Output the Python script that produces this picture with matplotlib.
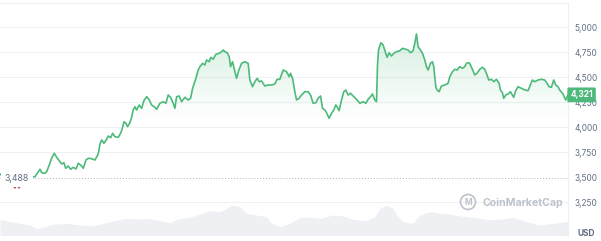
import numpy as np
import matplotlib
matplotlib.use("Agg")
import matplotlib.pyplot as plt
from matplotlib.patches import Circle
from matplotlib.colors import LinearSegmentedColormap

# ---------------- data ----------------
t = [0, 3, 6, 10, 13, 15, 17, 19, 21, 24, 27, 30, 35, 38.3, 40, 41.7, 45, 46.7, 49.3, 51.7, 54.3, 56.7, 59.3,
     61.7, 64, 65.7, 68.3, 70.7, 73.3, 76, 78.3, 81.7, 83.3, 86, 88.3, 91.7, 95, 98.3, 100, 101.7,
     104, 106.7, 108.3, 110.7, 112.7, 115, 118.3, 120.7, 122.7, 124, 126, 127.7, 130, 131.7, 133.3,
     135, 136.7, 139.3, 141.7, 144, 146.7, 149, 151.7, 155, 156.7, 160, 163.3, 166, 168.3, 170.7,
     173.3, 175, 176.7, 179.3, 181.7, 185, 188.3, 190.7, 192.7, 194.3, 196, 198.3, 200, 202.7, 205,
     206.7, 209.3, 211, 213.3, 216, 219.3, 221.7, 223.3, 225, 227.3, 229.3, 230.7, 232.7, 235,
     236.7, 239, 241.7, 245, 248.3, 250, 252.7, 255, 257.3, 259.3, 261.7, 265, 268.3, 271.7, 275,
     277.3, 280, 283.3, 286.7, 289.3, 290.7, 292.7, 295, 296.7, 299.3, 301.7, 305, 308.3, 310.7,
     313.3, 316, 318.3, 320.7, 322.7, 325, 326.7, 329.3, 331.7, 334, 336, 337.3, 339.3, 341.7, 344,
     346, 348.3, 350.7, 353.3, 356.7, 360, 363.3, 366, 368.3, 370.7, 372.7, 375, 376.7, 377.7,
     378.7, 381, 383.3, 386, 387.3, 389.3, 391.7, 394, 396.7, 400, 402.7, 406, 408.3, 410.7, 413.3,
     415, 416.7, 418.3, 420.7, 422.7, 425, 426.7, 428.3, 430.7, 432.7, 434, 436, 437.3, 439.3,
     441.7, 445, 448.3, 450, 452.7, 455, 457.3, 460, 462.7, 465, 466.7, 469.3, 470.7, 472.7, 475,
     477.3, 480, 482.7, 485, 487.3, 489, 491.7, 494, 496.7, 499.3, 500.7, 502.7, 504, 506, 508.3,
     510.7, 512.7, 514, 516, 518.3, 521.7, 525, 528.3, 530.7, 532.7, 535, 538.3, 541.7, 545, 547.3,
     549.3, 551.7, 554, 556, 558.3, 560, 563.3, 566, 568.3]
price = [3530, 3505, 3470, 3440, 3425, 3392, 3428, 3392, 3430, 3445, 3470, 3497, 3503, 3553, 3577, 3543, 3537, 3553,
         3620, 3687, 3737, 3697, 3663, 3630, 3643, 3587, 3610, 3577, 3597, 3580, 3637, 3610, 3587,
         3670, 3687, 3683, 3670, 3730, 3830, 3870, 3837, 3877, 3910, 3893, 3937, 3903, 3897, 3937,
         3997, 4053, 4037, 4003, 4043, 4097, 4170, 4203, 4170, 4220, 4187, 4263, 4303, 4277, 4220,
         4197, 4177, 4237, 4253, 4237, 4320, 4297, 4237, 4187, 4303, 4310, 4253, 4297, 4270, 4287,
         4387, 4437, 4487, 4570, 4603, 4637, 4620, 4670, 4653, 4697, 4677, 4727, 4737, 4753, 4770,
         4753, 4743, 4703, 4603, 4653, 4553, 4487, 4570, 4637, 4653, 4637, 4470, 4403, 4453, 4487,
         4453, 4460, 4410, 4420, 4420, 4430, 4477, 4477, 4570, 4553, 4503, 4537, 4487, 4353, 4270,
         4287, 4320, 4353, 4353, 4320, 4237, 4243, 4287, 4310, 4187, 4170, 4143, 4087, 4137, 4170,
         4220, 4203, 4163, 4270, 4353, 4370, 4320, 4337, 4310, 4277, 4237, 4253, 4237, 4277, 4303,
         4330, 4270, 4253, 4620, 4770, 4843, 4820, 4737, 4697, 4743, 4710, 4737, 4753, 4763, 4787,
         4777, 4770, 4743, 4763, 4837, 4930, 4803, 4770, 4737, 4670, 4603, 4570, 4637, 4653, 4603,
         4403, 4370, 4353, 4410, 4420, 4437, 4503, 4553, 4577, 4570, 4603, 4587, 4603, 4637, 4643,
         4620, 4577, 4520, 4537, 4577, 4597, 4577, 4520, 4470, 4477, 4453, 4477, 4437, 4370, 4343,
         4287, 4320, 4330, 4353, 4320, 4297, 4363, 4403, 4387, 4370, 4363, 4420, 4470, 4453, 4470,
         4477, 4470, 4437, 4403, 4397, 4470, 4420, 4403, 4370, 4330, 4270, 4321]

vol_t = [0, 10, 20, 30, 36.7, 43.3, 53.3, 66.7, 80, 93.3, 103.3, 113.3, 126.7, 136.7, 146.7, 160,
         170, 180, 190, 200, 210, 220, 226.7, 231.7, 240, 246.7, 256.7, 266.7, 271.7, 280, 290,
         300, 310, 320, 333.3, 343.3, 353.3, 366.7, 375, 380, 386.7, 393.3, 396.7, 403.3, 413.3,
         420, 430, 440, 450, 460, 473.3, 486.7, 500, 513.3, 526.7, 540, 553.3, 566.7, 568.3]
volume = [16.4, 14, 12.4, 10.7, 7.4, 8.4, 11.4, 12.4, 10.7, 9.7, 12.4, 15, 17.4, 16.4, 17.4, 15,
          13, 17.4, 18.4, 21.7, 25, 24, 27.4, 30.7, 29, 22.4, 20.7, 19, 12.4, 9, 12.4, 18.4,
          18.4, 17.4, 20.7, 19.7, 16.4, 15, 19, 27.4, 30.7, 27.4, 20.7, 14, 12.4, 20.7, 24, 22.4,
          21.7, 19.7, 18.4, 16.4, 16.4, 18.4, 14, 10.7, 12.4, 14, 14]

open_price = 3488
last_price = 4321
ticks = [3250, 3500, 3750, 4000, 4250, 4500, 4750, 5000]
tick_labels = ["3,250", "3,500", "3,750", "4,000", "4,250", "4,500", "4,750", "5,000"]

# ---------------- style ----------------
GREEN = "#4dba7b"
RED = "#ea3943"
GRID = "#eff2f5"
TXT = "#616e85"
FONT = ["Inter", "DejaVu Sans"]
plt.rcParams["font.family"] = FONT

W, H = 601, 241
fig = plt.figure(figsize=(W / 100, H / 100), dpi=100)
fig.patch.set_facecolor("white")

ax = fig.add_axes([0, 5.3 / H, 568 / W, (H - 2.7 - 5.3) / H])
ax.set_xlim(0, 568.3)
ax.set_ylim(2913, 5243)

# volume (background)
axv = ax.twinx()
axv.set_ylim(0, 233)
axv.fill_between(vol_t, 0, volume, color="#eef0f4", lw=0, zorder=1)
axv.set_yticks([])
for s in axv.spines.values():
    s.set_visible(False)
axv.set_zorder(0)
ax.set_zorder(1)
ax.patch.set_visible(False)

# grid
for v in ticks:
    if v == 3500:
        continue
    ax.axhline(v, color=GRID, lw=0.8, zorder=0.5)
ax.axhline(open_price, color="#a8b0bd", lw=0.7, ls=(0, (1, 2)), zorder=0.6)

# gradient fill below the price line
tp = np.array(t)
pp = np.array(price)
poly = ax.fill_between(tp, 2913, pp, color="none", lw=0)
grad = np.linspace(0, 1, 256).reshape(-1, 1)
cmap = LinearSegmentedColormap.from_list(
    "g", [(0.30, 0.73, 0.48, 0.0), (0.30, 0.73, 0.48, 0.0), (0.30, 0.73, 0.48, 0.30)])
im = ax.imshow(grad, extent=[0, 568.3, 2913, 5243], origin="lower", aspect="auto",
               cmap=cmap, zorder=1)
im.set_clip_path(poly.get_paths()[0], transform=ax.transData)

# price line (green above open, red below)
ax.plot(tp, pp, color=GREEN, lw=1.2, zorder=3, solid_joinstyle="round")
below = np.where(pp < open_price, pp, np.nan)
ax.plot(tp, below, color=RED, lw=1.0, zorder=3.1)

# axes cosmetics
ax.set_xticks([])
ax.yaxis.tick_right()
ax.set_yticks(ticks)
ax.set_yticklabels(tick_labels)
ax.tick_params(axis="y", length=0, pad=4.5, labelsize=6, labelcolor=TXT)
for lab in ax.get_yticklabels():
    lab.set_horizontalalignment("left")
for side in ["left", "bottom"]:
    ax.spines[side].set_visible(False)
for side in ["top", "right"]:
    ax.spines[side].set_color("#eceff3")
    ax.spines[side].set_linewidth(0.8)

# open price label
ax.text(4.5, open_price, "3,488", fontsize=6.3, color=TXT, va="center", ha="left",
        zorder=6, bbox=dict(boxstyle="square,pad=0.45", fc="white", ec="none"))

# last price tag
ax.text(1.004, last_price, "4,321", transform=ax.get_yaxis_transform(), fontsize=6,
        color="white", fontweight="bold", va="center", ha="left", zorder=7, clip_on=False,
        bbox=dict(boxstyle="round,pad=0.35,rounding_size=0.15", fc=GREEN, ec="none"))

# watermark
fig.text(483 / W, 1 - 203 / H, "CoinMarketCap", fontsize=7.6, color="#bcc3cd",
         fontweight="bold", va="center", ha="left")
fig.patches.append(Circle((468, H - 202), 7.5, transform=None, fill=False,
                          ec="#bcc3cd", lw=1.2, figure=fig))
fig.text(468 / W, 1 - 202.5 / H, "M", fontsize=6, color="#bcc3cd", fontweight="bold",
         va="center", ha="center")

# currency
fig.text(577 / W, 1 - 233 / H, "USD", fontsize=6, color=TXT, fontweight="bold",
         va="center", ha="left")

fig.savefig("out.png", dpi=100, facecolor="white")
